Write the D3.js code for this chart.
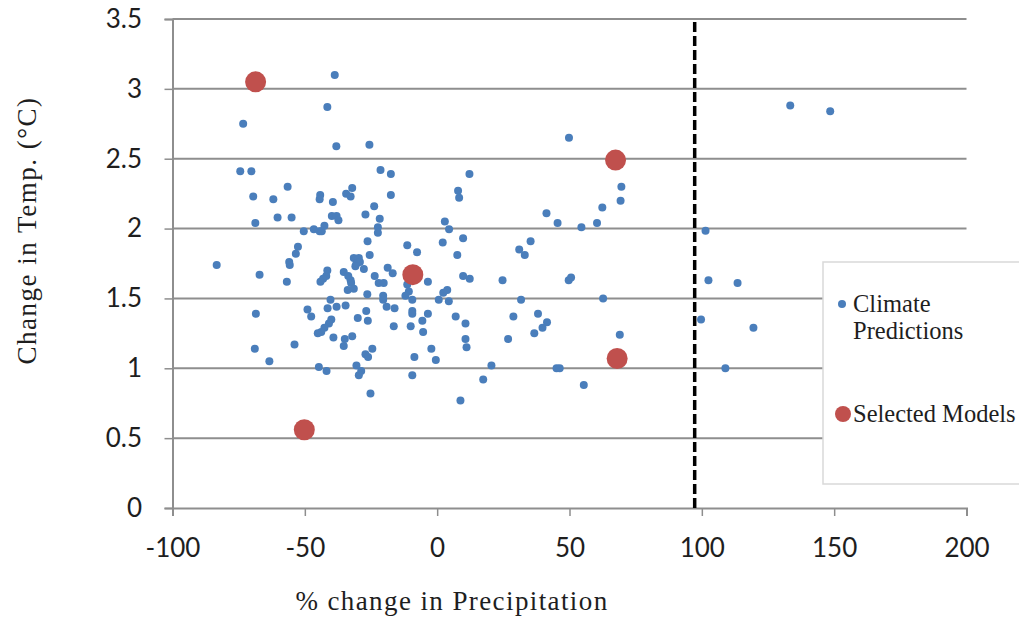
<!DOCTYPE html>
<html>
<head>
<meta charset="utf-8">
<script src="https://cdn.jsdelivr.net/npm/d3@7"></script>
<style>
  body { margin: 0; background: #fff; }
  svg { display: block; }
  .tick-label { font-family: Lato, "Open Sans", sans-serif; font-size: 26px; fill: #1e1e1e; }
  .title { font-family: "Liberation Serif", "Times New Roman", serif; fill: #1e1e1e; }
</style>
</head>
<body>
<div class="chart"></div>
<script>
// Climate predictions (blue): % change in precipitation and change in temperature
const precipChange = [
  -38.7, -41.5, -73.3, -38.1, -74.4, -70.2, -56.5, -69.5, -61.9, -44.2,
  -44.4, -39.4, -39.8, -38.0, -68.7, -60.3, -55.0, -50.4, -46.6, -44.4,
  -43.6, -42.6, -52.6, -53.4, -25.6, -21.4, -17.5, 12.2, -32.1, -34.4,
  -32.7, -17.5, 7.9, 8.3, -23.8, -27.1, -21.7, -37.3, -22.4, -22.4,
  2.9, 4.5, 9.8, 2.1, -11.3, -7.6, -26.3, -25.5, 7.6, 49.8,
  69.6, 69.3, 41.3, 62.4, 45.5, 54.5, 60.4, 35.3, 31.0, 33.1,
  -83.3, -67.1, -55.9, -55.7, -56.8, -41.5, -41.9, -43.1, -44.1, -40.3,
  -41.4, -38.0, -68.5, -49.0, -47.6, -40.0, -40.9, -42.6, -43.8, -45.1,
  -39.2, -68.9, -53.9, -63.4, -44.7, -41.8, -31.5, -29.6, -30.5, -29.2,
  -30.9, -35.3, -33.6, -32.7, -32.5, -27.7, -23.6, -18.7, -16.8, -22.1,
  -20.2, -3.5, -11.3, -10.7, 9.8, 12.3, -33.8, -31.5, -26.4, -20.4,
  -20.4, -12.0, -9.4, 2.3, 3.8, 0.6, 4.4, -34.6, -19.1, -16.1,
  -26.8, -30.0, -26.2, -9.4, -9.4, -3.5, -5.6, -16.4, -10.0, -5.3,
  7.0, 10.7, -34.9, -32.1, -35.3, -24.5, -27.1, -26.1, 10.7, 11.1,
  -2.2, -0.5, -8.6, -30.5, -28.7, -29.6, -9.4, -25.2, 8.8, 24.7,
  49.7, 50.6, 31.7, 62.7, 28.8, 38.1, 41.5, 39.8, 36.7, 26.8,
  69.0, 20.5, 45.1, 46.3, 17.4, 55.4, 133.4, 148.5, 101.4, 102.5,
  113.5, 99.7, 119.5, 108.9
];
const tempChange = [
  3.10, 2.87, 2.75, 2.59, 2.41, 2.41, 2.30, 2.23, 2.21, 2.24,
  2.21, 2.19, 2.09, 2.09, 2.04, 2.08, 2.08, 1.98, 1.995, 1.98,
  1.98, 2.02, 1.87, 1.82, 2.60, 2.42, 2.39, 2.39, 2.29, 2.25,
  2.23, 2.24, 2.27, 2.22, 2.16, 2.10, 2.07, 2.06, 2.01, 1.97,
  2.05, 1.995, 1.93, 1.90, 1.88, 1.83, 1.91, 1.81, 1.81, 2.65,
  2.30, 2.20, 2.11, 2.15, 2.04, 2.01, 2.04, 1.91, 1.85, 1.81,
  1.74, 1.67, 1.76, 1.74, 1.62, 1.70, 1.66, 1.64, 1.62, 1.49,
  1.43, 1.44, 1.39, 1.42, 1.37, 1.35, 1.32, 1.29, 1.26, 1.25,
  1.22, 1.14, 1.17, 1.05, 1.01, 0.98, 1.79, 1.79, 1.75, 1.76,
  1.73, 1.69, 1.66, 1.63, 1.61, 1.71, 1.66, 1.72, 1.68, 1.61,
  1.61, 1.62, 1.60, 1.55, 1.66, 1.64, 1.56, 1.57, 1.53, 1.52,
  1.49, 1.52, 1.49, 1.54, 1.56, 1.49, 1.48, 1.45, 1.44, 1.43,
  1.41, 1.36, 1.34, 1.41, 1.39, 1.39, 1.34, 1.30, 1.30, 1.26,
  1.37, 1.32, 1.21, 1.23, 1.16, 1.14, 1.10, 1.08, 1.21, 1.15,
  1.14, 1.06, 1.08, 1.02, 0.98, 0.95, 0.95, 0.82, 0.77, 1.63,
  1.63, 1.65, 1.49, 1.50, 1.37, 1.39, 1.33, 1.29, 1.25, 1.21,
  1.24, 1.02, 1.00, 1.00, 0.92, 0.88, 2.88, 2.84, 1.985, 1.63,
  1.61, 1.35, 1.29, 1.00
];

// Selected models (red)
const selectedPrecip = [-68.6, 67.4, -9.2, 68.0, -50.2];
const selectedTemp = [3.05, 2.49, 1.67, 1.07, 0.56];

// Dashed threshold line (% change in precipitation)
const threshold = 97.3;

// Tick labels
const xTicks = [-100, -50, 0, 50, 100, 150, 200];
const yTicks = [0, 0.5, 1, 1.5, 2, 2.5, 3, 3.5];

// Legend entries
const legendLabels = [["Climate", "Predictions"], ["Selected Models"]];

// Settings for the svg
const width = 1019;
const height = 623;
const margin = {top: 19, right: 52.5, bottom: 115, left: 172.5};
const innerWidth = width - margin.left - margin.right;
const innerHeight = height - margin.top - margin.bottom;

const blue = "#4a7ebb";
const red = "#c0504d";
const gridColor = "#8e8e8e";

const svg = d3.select(".chart")
  .append("svg")
    .attr("width", width)
    .attr("height", height)
  .append("g")
    .attr("transform", `translate(${margin.left}, ${margin.top})`);

const x = d3.scaleLinear()
  .domain([-100, 200])
  .range([0, innerWidth]);

const y = d3.scaleLinear()
  .domain([0, 3.5])
  .range([innerHeight, 0]);

// Horizontal gridlines
svg.selectAll(".grid")
  .data(yTicks.filter(t => t > 0))
  .enter()
  .append("line")
    .attr("class", "grid")
    .attr("x1", 0)
    .attr("x2", innerWidth)
    .attr("y1", d => y(d))
    .attr("y2", d => y(d))
    .attr("stroke", gridColor)
    .attr("stroke-width", 2);

// Y axis (plain hyphen for negatives, like the original)
const yAxis = svg.append("g")
  .call(d3.axisLeft(y).tickValues(yTicks).tickSize(8).tickPadding(22.5).tickFormat(d => String(d)));

// X axis
const xAxis = svg.append("g")
  .attr("transform", `translate(0, ${innerHeight})`)
  .call(d3.axisBottom(x).tickValues(xTicks).tickSize(8).tickPadding(23).tickFormat(d => String(d)));

// Style both axes like the original
[xAxis, yAxis].forEach(axis => {
  axis.attr("font-size", null).attr("font-family", null);
  axis.select(".domain").attr("stroke", gridColor).attr("stroke-width", 2);
  axis.selectAll(".tick line").attr("stroke", gridColor).attr("stroke-width", 1.5);
  axis.selectAll(".tick text").attr("class", "tick-label");
});

// Axis titles
svg.append("text")
  .attr("class", "title")
  .attr("x", 279.5)
  .attr("y", innerHeight + 102)
  .attr("text-anchor", "middle")
  .attr("font-size", "27px")
  .attr("letter-spacing", "1.4px")
  .text("% change in Precipitation");

svg.append("text")
  .attr("class", "title")
  .attr("transform", `translate(${-margin.left + 36}, ${innerHeight / 2 - 33}) rotate(-90)`)
  .attr("text-anchor", "middle")
  .attr("font-size", "27px")
  .attr("letter-spacing", "1.5px")
  .text("Change in Temp. (°C)");

// Dashed vertical line
svg.append("line")
  .attr("x1", x(threshold))
  .attr("x2", x(threshold))
  .attr("y1", y(0))
  .attr("y2", y(3.5))
  .attr("stroke", "#000")
  .attr("stroke-width", 3.5)
  .attr("stroke-dasharray", "10,4");

// Climate prediction points
svg.selectAll(".pred")
  .data(d3.zip(precipChange, tempChange))
  .enter()
  .append("circle")
    .attr("class", "pred")
    .attr("cx", d => x(d[0]))
    .attr("cy", d => y(d[1]))
    .attr("r", 4)
    .attr("fill", blue);

// Selected model points
svg.selectAll(".sel")
  .data(d3.zip(selectedPrecip, selectedTemp))
  .enter()
  .append("circle")
    .attr("class", "sel")
    .attr("cx", d => x(d[0]))
    .attr("cy", d => y(d[1]))
    .attr("r", 10.5)
    .attr("fill", red);

// Legend box (covers the gridlines on the right)
const legend = svg.append("g")
  .attr("transform", `translate(${650.5}, ${243})`);

legend.append("rect")
  .attr("width", 210)
  .attr("height", 222)
  .attr("fill", "#fff")
  .attr("stroke", "#d9d9d9")
  .attr("stroke-width", 1.5);

legend.append("circle")
  .attr("cx", 19)
  .attr("cy", 42)
  .attr("r", 4)
  .attr("fill", blue);

legend.append("circle")
  .attr("cx", 20)
  .attr("cy", 152)
  .attr("r", 8)
  .attr("fill", red);

legend.selectAll(".lg")
  .data(legendLabels)
  .enter()
  .append("text")
    .attr("class", "title lg")
    .attr("font-size", "24.5px")
    .attr("x", 30)
    .attr("y", (d, i) => i === 0 ? 50 : 160)
  .selectAll("tspan")
  .data(d => d)
  .enter()
  .append("tspan")
    .attr("x", 30)
    .attr("dy", (d, i) => i === 0 ? 0 : 26.5)
    .text(d => d);
</script>
</body>
</html>
